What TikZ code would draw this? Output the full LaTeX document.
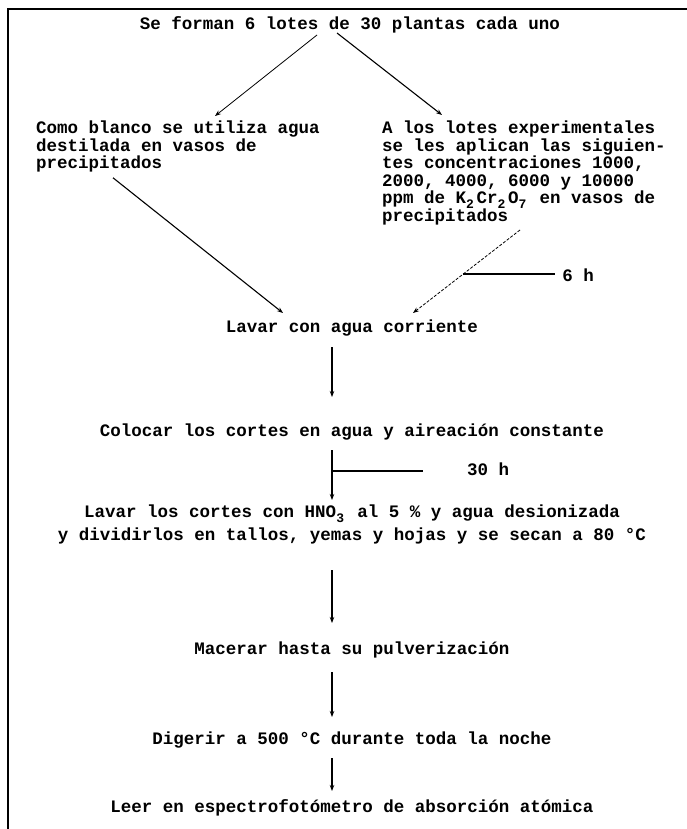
\documentclass[tikz,border=0pt]{standalone}
\usepackage{fontspec}
\setmonofont{Liberation Mono}
\usetikzlibrary{arrows.meta,calc}
\newcommand{\lowsub}[1]{\makebox[0.6em][l]{\raisebox{-5pt}{\fontsize{13}{13}\selectfont #1}}}
\tikzset{
  txt/.style={font=\ttfamily\bfseries\fontsize{17.5}{17.4}\selectfont, inner sep=0pt, anchor=base},
  blk/.style={txt, anchor=base west},
  conn/.style={line width=1.1pt, -{Stealth[length=6pt,width=4.5pt]}},
  thinconn/.style={line width=0.8pt, -{Stealth[length=6pt,width=4.5pt]}},
  dconn/.style={line width=0.8pt, dash pattern=on 3pt off 1.6pt, -{Stealth[length=6pt,width=4.5pt]}},
  plain/.style={line width=1.1pt},
  border/.style={line width=2.2pt},
}
\begin{document}
\begin{tikzpicture}[x=1pt,y=-1pt]
\useasboundingbox (0,0) rectangle (687,829);
\draw[border] (8,829) -- (8,9) -- (687,9);

\node[txt] (title) at (350,30) {Se forman 6 lotes de 30 plantas cada uno};

\node[blk] (l1) at (36,134) {Como blanco se utiliza agua};
\node[blk] (l2) at (36,151.4) {destilada en vasos de};
\node[blk] (l3) at (36,168.8) {precipitados};

\node[blk] (r1) at (382,134) {A los lotes experimentales};
\node[blk] (r2) at (382,151.4) {se les aplican las siguien-};
\node[blk] (r3) at (382,168.8) {tes concentraciones 1000,};
\node[blk] (r4) at (382,186.2) {2000, 4000, 6000 y 10000};
\node[blk] (r5) at (382,203.6) {ppm de K\lowsub{2}Cr\lowsub{2}O\lowsub{7} en vasos de};
\node[blk] (r6) at (382,221) {precipitados};

\node[txt] (sixh) at (578,281) {6 h};
\node[txt] (lavar1) at (352,332) {Lavar con agua corriente};
\node[txt] (colocar) at (352,436) {Colocar los cortes en agua y aireación constante};
\node[txt] (thirtyh) at (488,475) {30 h};
\node[txt] (lav2a) at (352,517) {Lavar los cortes con HNO\lowsub{3} al 5 \% y agua desionizada};
\node[txt] (lav2b) at (352,540) {y dividirlos en tallos, yemas y hojas y se secan a 80 °C};
\node[txt] (macerar) at (352,654) {Macerar hasta su pulverización};
\node[txt] (digerir) at (352,744) {Digerir a 500 °C durante toda la noche};
\node[txt] (leer) at (352,812) {Leer en espectrofotómetro de absorción atómica};

% branches from title
\draw[thinconn] ($(title.base)+(-33,5)$) -- ($(l1.base west)+(179,-18)$);
\draw[conn] ($(title.base)+(-13,3)$) -- ($(r1.base west)+(60,-19)$);

% into Lavar
\draw[conn] ($(l3.base west)+(77,9)$) -- ($(lavar1.base)+(-69,-19)$);
\draw[dconn] ($(r6.base west)+(138,9)$) -- coordinate[pos=0.53] (six) ($(lavar1.base)+(61,-19)$);
\coordinate (sixend) at (555,277);
\draw[plain] (six) -- (six -| sixend);

% main column
\draw[conn] ($(lavar1.base)+(-20,15)$) -- ($(colocar.base)+(-20,-39)$);
\draw[conn] ($(colocar.base)+(-20,14)$) -- coordinate[pos=0.42] (th) ($(lav2a.base)+(-20,-17)$);
\coordinate (thend) at (423,471);
\draw[plain] (th) -- (th -| thend);
\draw[conn] ($(lav2b.base)+(-20,30)$) -- ($(macerar.base)+(-20,-31)$);
\draw[conn] ($(macerar.base)+(-20,18)$) -- ($(digerir.base)+(-20,-27)$);
\draw[conn] ($(digerir.base)+(-20,14)$) -- ($(leer.base)+(-20,-21)$);
\end{tikzpicture}
\end{document}
